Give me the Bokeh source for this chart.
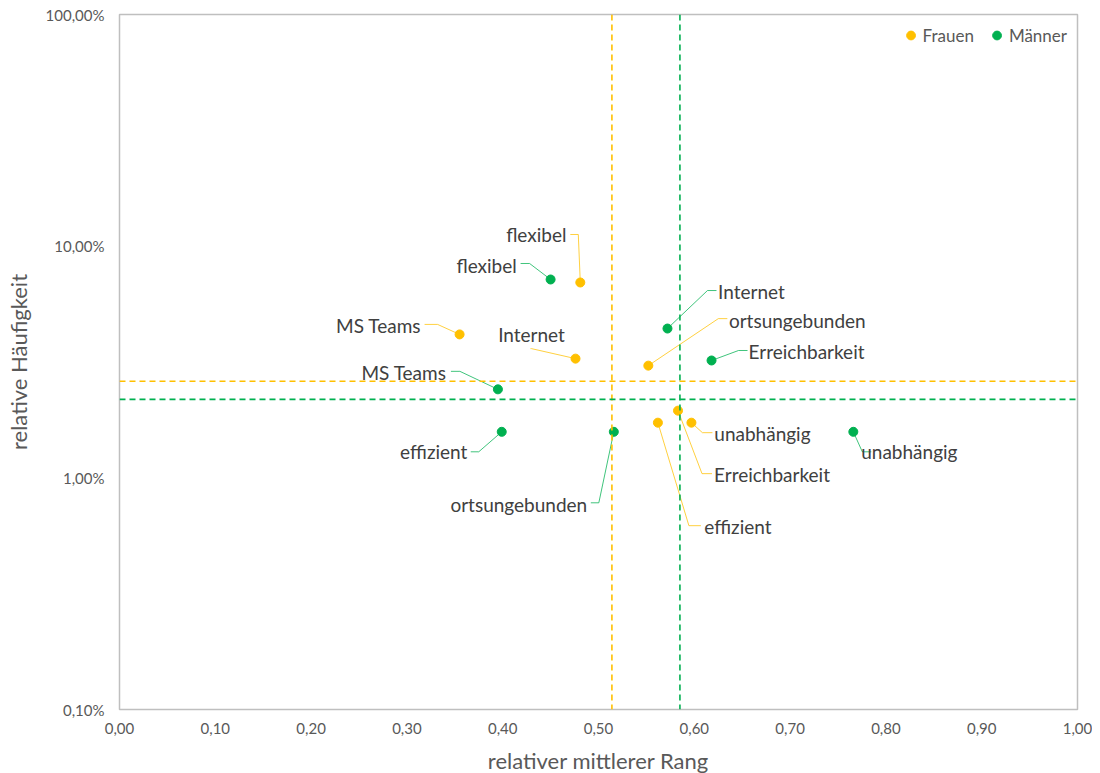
from bokeh.plotting import figure
from bokeh.models import (ColumnDataSource, FixedTicker, CustomJSTickFormatter, Span,
                          Legend, LegendItem, Range1d)
from bokeh.embed import file_html
from bokeh.resources import INLINE
from bokeh.core.properties import value

# ---------------- data ----------------
frauen_labels = ["flexibel", "MS Teams", "Internet", "ortsungebunden", "Erreichbarkeit", "effizient", "unabhängig"]
frauen_rank = [0.481, 0.355, 0.476, 0.552, 0.583, 0.562, 0.597]
frauen_freq = [6.97, 4.16, 3.27, 3.05, 1.95, 1.73, 1.73]

maenner_labels = ["flexibel", "Internet", "Erreichbarkeit", "MS Teams", "effizient", "ortsungebunden", "unabhängig"]
maenner_rank = [0.450, 0.572, 0.618, 0.395, 0.399, 0.516, 0.766]
maenner_freq = [7.18, 4.41, 3.21, 2.41, 1.58, 1.58, 1.58]

frauen_mean_rank = 0.514
frauen_mean_freq = 2.61
maenner_mean_rank = 0.585
maenner_mean_freq = 2.18

x_ticks = [0.0, 0.1, 0.2, 0.3, 0.4, 0.5, 0.6, 0.7, 0.8, 0.9, 1.0]
y_ticks = [0.1, 1, 10, 100]

# ---------------- layout (label placement, pixels relative to point) ----------------
# (text dx, text dy, leader start dx, dy, elbow dx, dy)
frauen_lab_pos = [(-44, -48, -10, -48, -2, -48),
                  (-81, -9, -35, -10, -22, -10),
                  (-44, -24, -45, -10, -44, -10),
                  (149, -45, 79, -47, 70, -47),
                  (94, 64, 34, 63, 24, 63),
                  (80, 104, 43, 103, 31, 103),
                  (71, 11, 21, 10, 11, 10)]
maenner_lab_pos = [(-64, -14, -30, -16, -21, -16),
                   (84, -37, 49, -38, 40, -38),
                   (95, -9, 36, -10, 27, -10),
                   (-94, -17, -47, -18, -38, -18),
                   (-68, 20, -31, 20, -23, 20),
                   (-95, 73, -23, 71, -15, 71),
                   (56, 20, 18, 20, 9, 20)]

ORANGE = "#FFC000"
GREEN = "#00B050"
FONT = "Lato"

FW, FH = 958, 695
X0, X1 = 0.0, 1.0
Y0, Y1 = 0.1, 100.0
PX_PER_DEC = FH / 3.0

p = figure(frame_width=FW, frame_height=FH, x_range=Range1d(X0, X1), y_range=Range1d(Y0, Y1),
           y_axis_type="log", output_backend="svg", toolbar_location=None,
           min_border_left=119, min_border_top=14, min_border_right=15, min_border_bottom=6)

p.xgrid.visible = False
p.ygrid.visible = False
p.outline_line_color = "#BFBFBF"
p.outline_line_width = 1.5
p.background_fill_color = "white"
p.border_fill_color = "white"

for ax in (p.xaxis[0], p.yaxis[0]):
    ax.axis_line_color = None
    ax.major_tick_line_color = None
    ax.minor_tick_line_color = None
    ax.major_label_text_font = FONT
    ax.major_label_text_font_size = "15px"
    ax.major_label_text_color = "#595959"
    ax.axis_label_text_font = FONT
    ax.axis_label_text_font_size = "22px"
    ax.axis_label_text_font_style = "normal"
    ax.axis_label_text_color = "#595959"

p.xaxis.ticker = FixedTicker(ticks=x_ticks)
p.yaxis.ticker = FixedTicker(ticks=y_ticks, minor_ticks=[])
p.xaxis.formatter = CustomJSTickFormatter(code="return tick.toFixed(2).replace('.', ',');")
p.yaxis.formatter = CustomJSTickFormatter(code="return tick.toFixed(2).replace('.', ',') + '%';")
p.xaxis.axis_label = "relativer mittlerer Rang"
p.yaxis.axis_label = "relative Häufigkeit"
p.xaxis.major_label_standoff = 7
p.yaxis.major_label_standoff = 9
p.xaxis.axis_label_standoff = 10
p.yaxis.axis_label_standoff = 11

# mean lines
for loc, dim, col in [(frauen_mean_rank, "height", ORANGE), (maenner_mean_rank, "height", GREEN),
                      (frauen_mean_freq, "width", ORANGE), (maenner_mean_freq, "width", GREEN)]:
    p.add_layout(Span(location=loc, dimension=dim, line_color=col, line_width=1.6, line_dash="6 4"))


def px_to_data(x, y, dx, dy):
    return x + dx * (X1 - X0) / FW, y * 10 ** (-dy / PX_PER_DEC)


def add_series(labels, xs, ys, pos, color):
    lx, ly = [], []
    tx, ty, toff_x, toff_y = [], [], [], []
    for lab, x, y, (tdx, tdy, sdx, sdy, edx, edy) in zip(labels, xs, ys, pos):
        sx, sy = px_to_data(x, y, sdx, sdy)
        ex, ey = px_to_data(x, y, edx, edy)
        lx.append([sx, ex, x])
        ly.append([sy, ey, y])
        tx.append(x)
        ty.append(y)
        toff_x.append(tdx)
        toff_y.append(tdy)
    p.multi_line(xs=lx, ys=ly, line_color=color, line_width=1, line_alpha=0.75)
    src = ColumnDataSource(dict(x=tx, y=ty, text=labels, xo=toff_x, yo=toff_y))
    p.text(x="x", y="y", text="text", x_offset="xo", y_offset="yo", source=src,
           text_font=value(FONT), text_font_size="19px", text_color="#404040",
           text_align="center", text_baseline="middle")
    r = p.scatter(xs, ys, size=9, color=color, line_color=color)
    return r


rf = add_series(frauen_labels, frauen_rank, frauen_freq, frauen_lab_pos, ORANGE)
rm = add_series(maenner_labels, maenner_rank, maenner_freq, maenner_lab_pos, GREEN)

legend = Legend(items=[LegendItem(label="Frauen", renderers=[rf]), LegendItem(label="Männer", renderers=[rm])],
                location="top_right", orientation="horizontal", border_line_color=None,
                background_fill_alpha=0, label_text_font=FONT, label_text_font_size="17px",
                label_text_color="#595959", glyph_width=22, glyph_height=22, label_standoff=1,
                spacing=12, margin=10, padding=2)
p.add_layout(legend)

open("out.html", "w").write(file_html(p, INLINE))
